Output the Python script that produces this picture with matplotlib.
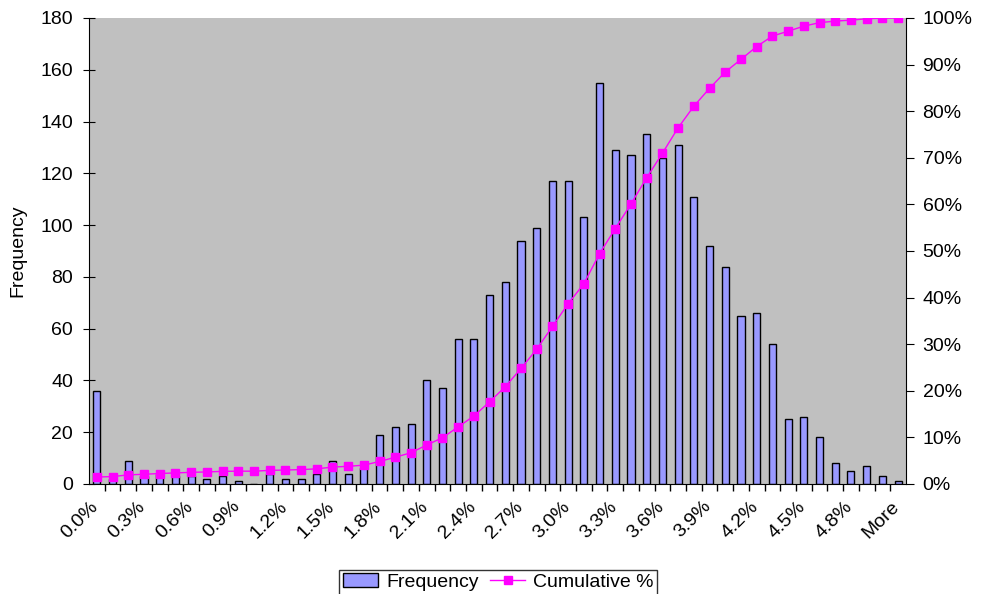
import numpy as np
import matplotlib
matplotlib.use("Agg")
import matplotlib.pyplot as plt
import matplotlib.transforms as mtransforms
from matplotlib.ticker import PercentFormatter

plt.rcParams['font.family'] = ['Liberation Sans', 'DejaVu Sans']

# bins 0.0% .. 5.0% plus More
bins = [f"{i / 10:.1f}%" for i in range(51)] + ["More"]
freq = [36, 2, 9, 3, 4, 3, 3, 2, 3, 1,
        0, 4, 2, 2, 4, 9, 4, 6, 19, 22,
        23, 40, 37, 56, 56, 73, 78, 94, 99, 117,
        117, 103, 155, 129, 127, 135, 126, 131, 111, 92,
        84, 65, 66, 54, 25, 26, 18, 8, 5, 7,
        3, 1]

freq = np.array(freq)
cum_pct = np.cumsum(freq) / freq.sum() * 100
x = np.arange(len(bins))

fig = plt.figure(figsize=(9.81, 5.94), dpi=100)
ax = fig.add_axes([0.0907, 0.1852, 0.8328, 0.7845])
ax.set_facecolor('#C0C0C0')

b = ax.bar(x, freq, width=0.45, color='#9999FF', edgecolor='black', linewidth=1,
           label='Frequency', zorder=2)
ax.set_xlim(-0.5, len(bins) - 0.5)
ax.set_ylim(0, 180)
ax.set_yticks(range(0, 181, 20))
ax.set_ylabel('Frequency', fontsize=14, labelpad=10)

ax.set_xticks(x[::3])
ax.set_xticklabels(bins[::3], rotation=45, ha='right', rotation_mode='anchor', fontsize=14)
ax.set_xticks(x[:-1] + 0.5, minor=True)
ax.tick_params(axis='x', which='both', length=0, pad=10)
ax.tick_params(axis='x', which='minor', length=5, direction='out', width=1)
ax.tick_params(axis='y', labelsize=14, direction='inout', length=9, pad=7)
# shift the rotated labels a little to the left, like Excel does
shift = mtransforms.ScaledTranslation(-7 / 100, 0, fig.dpi_scale_trans)
for lab in ax.get_xticklabels():
    lab.set_transform(lab.get_transform() + shift)

for s in ['top', 'right']:
    ax.spines[s].set_visible(False)
ax.spines['left'].set_color('black')
ax.spines['bottom'].set_color('black')

ax2 = ax.twinx()
l, = ax2.plot(x, cum_pct, color='#FF00FF', marker='s', markersize=5.5, linewidth=1,
              label='Cumulative %', zorder=3)
ax2.set_ylim(0, 100)
ax2.set_yticks(range(0, 101, 10))
ax2.yaxis.set_major_formatter(PercentFormatter(decimals=0))
ax2.tick_params(axis='y', labelsize=14, direction='out', length=6, pad=6)
ax2.spines['top'].set_visible(False)
ax2.spines['left'].set_visible(False)
ax2.spines['bottom'].set_visible(False)
ax2.spines['right'].set_color('black')

leg = fig.legend([b, l], ['Frequency', 'Cumulative %'], loc='lower center',
                 bbox_to_anchor=(0.508, -0.018), ncol=2, fontsize=14, frameon=True,
                 fancybox=False, edgecolor='black', handlelength=1.8, handletextpad=0.4,
                 columnspacing=0.6, borderpad=0.2)
leg.get_frame().set_linewidth(1)

fig.savefig('out.png', dpi=100)
